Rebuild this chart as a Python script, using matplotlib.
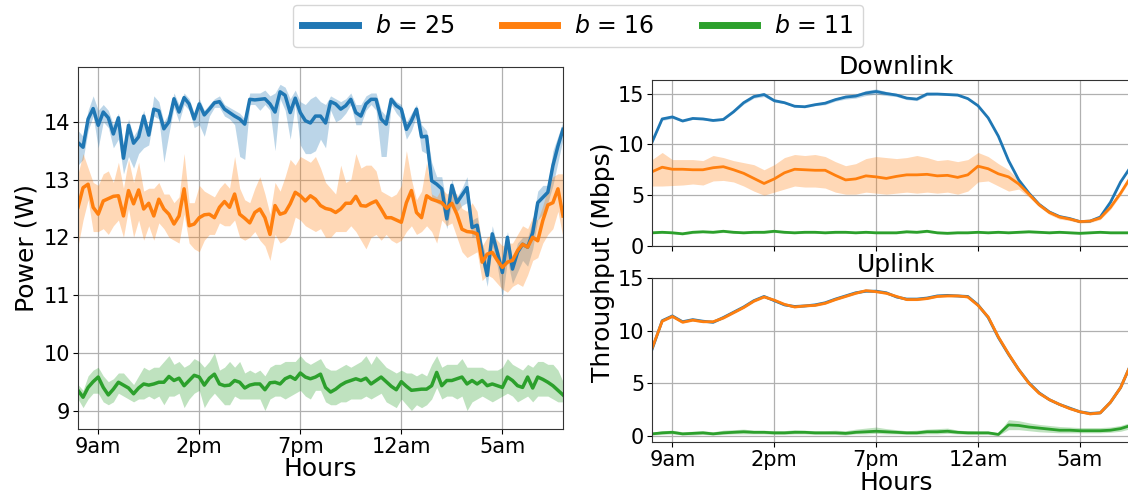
import numpy as np
import matplotlib
matplotlib.use("Agg")
import matplotlib.pyplot as plt

# ---------------- data ----------------
tick_pos = [9, 14, 19, 24, 29]
tick_labels = ['9am', '2pm', '7pm', '12am', '5am']
series_labels = [r'$b$ = 25', r'$b$ = 16', r'$b$ = 11']
colors = ['#1f77b4', '#ff7f0e', '#2ca02c']

# Left panel: power, 15-minute samples from 8am to 8am
hours_power = np.arange(97) * 0.25 + 8.0

p25_mean = [13.64, 13.56, 14.05, 14.23, 13.94, 14.17, 14.07, 13.79, 14.07, 13.37, 13.94, 13.63, 13.74, 14.10, 13.77, 14.22, 14.19, 13.88, 14.00, 14.40, 14.17, 14.42, 14.31, 14.05, 14.31,
            14.12, 14.22, 14.33, 14.35, 14.22, 14.16, 14.10, 14.05, 13.96, 14.39, 14.38, 14.39, 14.40, 14.31, 14.17, 14.52, 14.46, 14.16, 14.41, 14.16, 14.02, 13.98, 14.10, 14.10,
            13.98, 14.35, 14.31, 14.22, 14.28, 14.39, 14.16, 14.10, 14.31, 14.39, 14.39, 14.05, 13.96, 14.39, 14.28, 14.22, 13.87, 14.02, 14.22, 13.74, 13.75, 12.98, 12.92,
            12.84, 12.32, 12.90, 12.60, 12.73, 12.86, 12.17, 12.21, 11.74, 11.34, 12.06, 11.74, 11.39, 12.00, 11.45, 11.74, 11.88, 11.83, 12.08, 12.60, 12.69, 12.78, 13.24, 13.58, 13.87]
p25_low = [13.25, 13.35, 13.85, 14.1, 13.55, 14.0, 13.9, 13.55, 13.7, 13.1, 13.4, 13.2, 13.45, 13.55, 13.6, 14.1, 14.05, 13.3, 13.8, 14.25, 14.0, 14.3, 14.2, 13.9, 13.95,
           13.75, 14.1, 14.25, 14.25, 14.1, 14.05, 13.95, 13.4, 13.35, 14.3, 14.3, 14.2, 14.3, 14.2, 13.5, 14.4, 14.2, 13.7, 14.3, 13.6, 13.45, 13.45, 13.5, 13.7,
           13.55, 14.2, 14.0, 14.05, 14.15, 14.3, 13.95, 13.95, 14.2, 14.3, 14.2, 13.4, 13.4, 14.3, 14.15, 14.05, 13.7, 13.85, 14.1, 13.5, 13.45, 12.7, 12.6,
           12.55, 12.15, 12.6, 12.45, 12.55, 12.6, 12.0, 12.05, 11.55, 11.15, 11.85, 11.5, 10.95, 11.6, 11.2, 11.4, 11.6, 11.5, 11.8, 12.3, 12.4, 12.6, 12.9, 13.3, 13.7]
p25_high = [13.85, 13.75, 14.2, 14.45, 14.2, 14.3, 14.2, 13.95, 14.15, 13.6, 14.05, 13.75, 13.9, 14.2, 13.85, 14.45, 14.35, 14.0, 14.15, 14.5, 14.3, 14.5, 14.4, 14.15, 14.4,
            14.2, 14.3, 14.4, 14.45, 14.3, 14.25, 14.2, 14.15, 14.05, 14.5, 14.5, 14.5, 14.55, 14.45, 14.5, 14.65, 14.6, 14.4, 14.55, 14.35, 14.3, 14.4, 14.45, 14.35,
            14.3, 14.45, 14.4, 14.35, 14.4, 14.5, 14.3, 14.3, 14.45, 14.5, 14.5, 14.2, 14.1, 14.45, 14.35, 14.3, 14.0, 14.15, 14.3, 13.95, 13.85, 13.3, 13.05,
            13.05, 12.55, 13.0, 12.7, 12.85, 13.05, 12.3, 12.35, 11.9, 11.6, 12.2, 11.85, 11.5, 12.1, 11.6, 11.9, 12.0, 12.0, 12.3, 12.8, 12.9, 12.9, 13.5, 13.75, 14.0]

p16_mean = [12.52, 12.86, 12.92, 12.52, 12.40, 12.63, 12.67, 12.71, 12.72, 12.37, 12.81, 12.58, 12.82, 12.49, 12.59, 12.37, 12.66, 12.49, 12.40, 12.23, 12.37, 12.84, 12.20, 12.23, 12.34,
            12.39, 12.40, 12.34, 12.52, 12.62, 12.52, 12.75, 12.40, 12.33, 12.25, 12.43, 12.49, 12.34, 12.05, 12.55, 12.40, 12.43, 12.58, 12.78, 12.72, 12.63, 12.72, 12.66, 12.55,
            12.50, 12.48, 12.43, 12.49, 12.59, 12.59, 12.71, 12.55, 12.54, 12.59, 12.63, 12.49, 12.34, 12.34, 12.30, 12.26, 12.60, 12.81, 12.43, 12.34, 12.72, 12.66, 12.63,
            12.60, 12.50, 12.59, 12.40, 12.14, 12.10, 12.09, 12.06, 11.57, 11.71, 11.74, 11.60, 11.48, 11.57, 11.60, 11.77, 11.88, 11.83, 12.00, 11.94, 12.29, 12.56, 12.60, 12.84, 12.37]
p16_low = [11.85, 12.3, 12.65, 12.1, 12.1, 12.15, 12.05, 12.2, 12.3, 12.0, 12.5, 12.0, 12.3, 11.95, 12.2, 11.95, 12.25, 12.15, 12.0, 11.95, 11.9, 12.4, 11.9, 11.8, 11.75,
           11.95, 12.05, 12.05, 12.25, 12.2, 12.2, 12.3, 12.0, 11.95, 12.0, 12.1, 11.95, 11.85, 11.6, 12.05, 11.9, 11.95, 12.05, 12.35, 12.3, 12.2, 12.15, 12.1, 12.15,
           12.0, 12.0, 12.1, 12.1, 12.1, 12.2, 12.1, 11.95, 11.8, 12.0, 12.05, 11.95, 12.05, 11.95, 11.9, 11.95, 12.1, 12.2, 12.05, 12.1, 12.2, 12.1, 11.9,
           12.3, 12.2, 12.25, 12.0, 11.75, 11.65, 11.7, 11.75, 11.25, 11.35, 11.3, 11.2, 11.1, 11.05, 11.15, 11.2, 11.15, 11.35, 11.6, 11.65, 11.9, 12.05, 12.15, 12.45, 12.0]
p16_high = [13.1, 13.45, 13.2, 12.95, 12.9, 13.1, 13.15, 12.95, 13.3, 12.85, 13.35, 12.95, 13.3, 12.8, 12.85, 12.85, 12.95, 12.75, 12.75, 12.6, 12.7, 13.45, 12.6, 12.6, 12.9,
            12.8, 12.75, 12.7, 12.85, 12.95, 12.85, 13.4, 12.85, 12.65, 12.6, 12.85, 13.05, 12.75, 12.4, 12.95, 12.8, 13.05, 13.35, 13.25, 13.4, 13.35, 13.3, 13.4, 13.2,
            12.95, 12.85, 12.75, 13.25, 12.95, 13.0, 13.45, 13.2, 13.25, 13.25, 13.15, 12.8, 12.75, 12.7, 12.75, 12.9, 13.5, 13.0, 12.65, 12.8, 13.3, 12.75, 12.7,
            12.85, 12.75, 12.8, 12.75, 12.5, 12.45, 12.6, 12.45, 11.85, 12.0, 12.05, 11.95, 11.85, 11.9, 11.9, 12.05, 12.2, 12.15, 12.35, 12.3, 12.55, 12.85, 13.05, 13.1, 13.1]

p11_mean = [9.35, 9.23, 9.40, 9.50, 9.58, 9.40, 9.27, 9.37, 9.49, 9.44, 9.39, 9.29, 9.39, 9.46, 9.44, 9.46, 9.49, 9.49, 9.59, 9.52, 9.56, 9.43, 9.52, 9.61, 9.58,
            9.44, 9.56, 9.63, 9.46, 9.43, 9.44, 9.52, 9.49, 9.39, 9.44, 9.46, 9.46, 9.36, 9.48, 9.49, 9.46, 9.55, 9.59, 9.54, 9.65, 9.58, 9.55, 9.58, 9.63,
            9.40, 9.32, 9.37, 9.44, 9.49, 9.52, 9.55, 9.52, 9.56, 9.46, 9.52, 9.58, 9.50, 9.42, 9.36, 9.50, 9.42, 9.35, 9.36, 9.37, 9.37, 9.43, 9.66,
            9.43, 9.52, 9.52, 9.55, 9.58, 9.46, 9.52, 9.46, 9.52, 9.43, 9.46, 9.43, 9.40, 9.58, 9.52, 9.43, 9.40, 9.58, 9.39, 9.58, 9.54, 9.49, 9.43, 9.35, 9.27]
p11_low = [9.2, 9.05, 9.2, 9.3, 9.3, 9.15, 9.1, 9.15, 9.3, 9.25, 9.2, 9.15, 9.2, 9.2, 9.25, 9.2, 9.25, 9.1, 9.25, 9.25, 9.3, 9.05, 9.2, 9.3, 9.35,
           9.05, 9.2, 9.3, 9.2, 9.1, 9.1, 9.25, 9.2, 9.2, 9.2, 9.2, 9.2, 9.0, 9.2, 9.25, 9.25, 9.2, 9.25, 9.3, 9.35, 9.25, 9.2, 9.35, 9.35,
           9.15, 9.1, 9.1, 9.15, 9.15, 9.2, 9.2, 9.2, 9.25, 9.2, 9.25, 9.3, 9.15, 9.1, 9.05, 9.2, 9.1, 9.0, 9.1, 9.05, 9.1, 9.2, 9.4,
           9.2, 9.25, 9.25, 9.2, 9.25, 9.0, 9.15, 9.2, 9.25, 9.2, 9.15, 9.2, 9.25, 9.3, 9.25, 9.15, 9.2, 9.25, 9.15, 9.25, 9.25, 9.25, 9.2, 9.15, 9.15]
p11_high = [9.45, 9.35, 9.6, 9.7, 9.75, 9.6, 9.5, 9.55, 9.65, 9.65, 9.55, 9.45, 9.6, 9.75, 9.7, 9.75, 9.75, 9.85, 9.95, 9.8, 9.85, 9.75, 9.8, 9.9, 9.85,
            9.75, 9.85, 10.0, 9.7, 9.75, 9.85, 9.75, 9.85, 9.65, 9.7, 9.65, 9.7, 9.6, 9.75, 9.8, 9.8, 9.85, 9.85, 9.85, 9.95, 9.85, 9.8, 9.85, 9.9,
            9.75, 9.7, 9.7, 9.75, 9.8, 9.75, 9.8, 9.85, 9.95, 9.8, 9.95, 9.85, 9.75, 9.7, 9.65, 9.7, 9.65, 9.65, 9.6, 9.65, 9.6, 9.8, 9.95,
            9.75, 9.8, 9.8, 9.8, 9.9, 9.75, 9.75, 9.75, 9.75, 9.7, 9.7, 9.7, 9.75, 9.9, 9.8, 9.75, 9.7, 9.8, 9.75, 9.85, 9.85, 9.8, 9.8, 9.7, 9.5]

# Right panels: throughput, 30-minute samples
hours_tp = np.arange(48) * 0.5 + 8.0

dl25 = [10.2, 12.5, 12.7, 12.3, 12.55, 12.5, 12.35, 12.45, 13.2, 14.1, 14.7, 14.9, 14.3, 14.1, 13.75, 13.7,
        13.9, 14.05, 14.4, 14.65, 14.75, 15.05, 15.2, 15.0, 14.85, 14.55, 14.45, 14.95, 14.95, 14.9, 14.85, 14.5,
        13.8, 12.6, 10.8, 8.4, 6.5, 5.2, 4.1, 3.35, 2.9, 2.7, 2.4, 2.45, 2.85, 4.3, 6.3, 7.8]
dl25_hw = [0.1, 0.15, 0.15, 0.1, 0.1, 0.1, 0.1, 0.1, 0.1, 0.15, 0.15, 0.2, 0.15, 0.1, 0.1, 0.1,
           0.1, 0.15, 0.15, 0.2, 0.2, 0.25, 0.25, 0.2, 0.15, 0.15, 0.15, 0.15, 0.1, 0.1, 0.1, 0.1,
           0.1, 0.1, 0.1, 0.1, 0.1, 0.1, 0.1, 0.1, 0.1, 0.1, 0.1, 0.1, 0.1, 0.1, 0.1, 0.1]
dl16 = [7.3, 7.75, 7.55, 7.55, 7.5, 7.5, 7.7, 7.8, 7.5, 7.15, 6.65, 6.15, 6.6, 7.2, 7.55, 7.5,
        7.45, 7.45, 6.95, 6.5, 6.6, 6.9, 6.8, 6.65, 6.85, 7.0, 7.0, 7.05, 6.9, 6.95, 6.75, 7.0,
        7.85, 7.6, 7.1, 6.8, 6.1, 5.1, 4.05, 3.3, 2.85, 2.65, 2.4, 2.45, 2.75, 3.8, 5.2, 6.8]
dl16_low = [5.9, 5.9, 5.95, 6.0, 6.1, 6.0, 6.4, 6.45, 6.3, 5.9, 5.4, 5.0, 5.3, 5.6, 5.9, 5.8,
            5.8, 5.7, 5.3, 5.1, 5.1, 5.3, 5.2, 5.1, 5.2, 5.3, 5.2, 5.3, 5.2, 5.3, 5.1, 5.4,
            6.3, 6.4, 5.9, 5.4, 5.6, 4.8, 3.85, 3.1, 2.65, 2.5, 2.25, 2.3, 2.6, 3.6, 5.0, 6.6]
dl16_high = [8.5, 9.2, 8.5, 8.5, 8.5, 8.4, 8.9, 8.7, 8.4, 8.2, 8.0, 7.5, 8.0, 8.7, 9.0, 8.9,
             9.0, 8.8, 8.3, 7.9, 8.1, 8.6, 8.8, 8.7, 8.6, 8.7, 8.9, 8.7, 8.4, 8.5, 8.3, 8.5,
             9.2, 8.8, 8.1, 7.5, 6.5, 5.3, 4.25, 3.5, 3.05, 2.8, 2.55, 2.6, 2.9, 4.0, 5.4, 7.0]
dl11 = [1.3, 1.35, 1.3, 1.2, 1.35, 1.4, 1.35, 1.45, 1.35, 1.3, 1.35, 1.35, 1.45, 1.35, 1.3, 1.35,
        1.35, 1.3, 1.35, 1.35, 1.3, 1.35, 1.3, 1.3, 1.3, 1.4, 1.35, 1.45, 1.3, 1.25, 1.3, 1.3,
        1.35, 1.3, 1.35, 1.3, 1.35, 1.4, 1.35, 1.3, 1.35, 1.3, 1.25, 1.3, 1.35, 1.3, 1.3, 1.3]
dl11_hw = [0.1, 0.1, 0.1, 0.1, 0.12, 0.1, 0.1, 0.12, 0.1, 0.1, 0.1, 0.12, 0.12, 0.1, 0.1, 0.1,
           0.1, 0.1, 0.12, 0.1, 0.1, 0.1, 0.1, 0.1, 0.1, 0.12, 0.1, 0.12, 0.1, 0.1, 0.1, 0.1,
           0.1, 0.1, 0.1, 0.1, 0.1, 0.12, 0.1, 0.1, 0.1, 0.1, 0.1, 0.1, 0.1, 0.1, 0.1, 0.1]

ul25 = [8.2, 10.95, 11.4, 10.85, 11.05, 10.9, 10.8, 11.25, 11.75, 12.25, 12.85, 13.25, 12.85, 12.45, 12.3, 12.35,
        12.45, 12.65, 13.0, 13.3, 13.6, 13.75, 13.75, 13.6, 13.2, 13.0, 13.0, 13.1, 13.3, 13.35, 13.3, 13.25,
        12.45, 11.25, 9.35, 7.75, 6.3, 5.05, 4.1, 3.45, 3.0, 2.65, 2.3, 2.15, 2.2, 3.2, 4.6, 6.8]
ul16 = [8.3, 10.9, 11.35, 10.8, 11.0, 10.85, 10.85, 11.2, 11.7, 12.2, 12.8, 13.2, 12.9, 12.5, 12.25, 12.35,
        12.4, 12.6, 12.95, 13.25, 13.55, 13.8, 13.7, 13.55, 13.25, 12.95, 12.95, 13.05, 13.25, 13.3, 13.3, 13.2,
        12.4, 11.3, 9.4, 7.8, 6.3, 5.0, 4.05, 3.45, 3.0, 2.6, 2.3, 2.1, 2.2, 3.2, 4.6, 6.8]
ul_hw = [0.1, 0.1, 0.1, 0.1, 0.1, 0.1, 0.1, 0.1, 0.1, 0.1, 0.1, 0.1, 0.1, 0.1, 0.1, 0.1,
         0.1, 0.1, 0.1, 0.1, 0.1, 0.1, 0.1, 0.1, 0.1, 0.1, 0.1, 0.1, 0.1, 0.1, 0.1, 0.1,
         0.1, 0.1, 0.1, 0.1, 0.1, 0.1, 0.1, 0.1, 0.1, 0.1, 0.1, 0.1, 0.1, 0.1, 0.1, 0.1]
ul11 = [0.2, 0.3, 0.35, 0.2, 0.25, 0.3, 0.2, 0.3, 0.35, 0.4, 0.35, 0.35, 0.3, 0.3, 0.35, 0.35,
        0.3, 0.3, 0.3, 0.25, 0.35, 0.4, 0.45, 0.4, 0.35, 0.3, 0.3, 0.4, 0.4, 0.45, 0.35, 0.3,
        0.3, 0.3, 0.15, 1.05, 1.0, 0.85, 0.75, 0.65, 0.55, 0.55, 0.5, 0.5, 0.5, 0.55, 0.7, 1.0]
ul11_low = [0.1, 0.15, 0.2, 0.1, 0.1, 0.15, 0.1, 0.15, 0.2, 0.2, 0.2, 0.2, 0.15, 0.15, 0.2, 0.2,
            0.15, 0.15, 0.15, 0.1, 0.2, 0.2, 0.25, 0.2, 0.2, 0.15, 0.15, 0.2, 0.2, 0.25, 0.2, 0.15,
            0.15, 0.15, 0.05, 0.6, 0.6, 0.5, 0.4, 0.35, 0.3, 0.3, 0.3, 0.3, 0.3, 0.35, 0.45, 0.7]
ul11_high = [0.35, 0.5, 0.55, 0.4, 0.45, 0.5, 0.4, 0.55, 0.6, 0.65, 0.55, 0.55, 0.5, 0.5, 0.6, 0.55,
             0.5, 0.5, 0.55, 0.5, 0.65, 0.75, 0.85, 0.7, 0.6, 0.5, 0.55, 0.65, 0.7, 0.75, 0.55, 0.5,
             0.45, 0.45, 0.3, 1.55, 1.45, 1.25, 1.1, 1.0, 0.9, 0.85, 0.8, 0.8, 0.8, 0.85, 1.0, 1.3]

# ---------------- figure ----------------
W, H = 1128, 496
fig = plt.figure(figsize=(W / 100, H / 100), dpi=100)

def px_axes(x0, y0, x1, y1):
    return fig.add_axes([x0 / W, 1 - y1 / H, (x1 - x0) / W, (y1 - y0) / H])

ax_p = px_axes(78, 67, 563, 429)
ax_dl = px_axes(652, 80, 1141, 246)
ax_ul = px_axes(652, 278, 1141, 442)

TICK_FS = 15
LAB_FS = 18
alpha = 0.3

# Left: power
pw = [(p25_mean, p25_low, p25_high), (p16_mean, p16_low, p16_high), (p11_mean, p11_low, p11_high)]
lines = []
for (m, lo, hi), c, lab in zip(pw, colors, series_labels):
    ax_p.fill_between(hours_power, lo, hi, color=c, alpha=alpha, lw=0)
    ln, = ax_p.plot(hours_power, m, color=c, lw=2.5, label=lab)
    lines.append(ln)
ax_p.set_xlim(8, 32)
ax_p.set_ylim(8.68, 14.95)
ax_p.set_yticks([9, 10, 11, 12, 13, 14])
ax_p.set_ylabel('Power (W)', fontsize=LAB_FS)
ax_p.set_xlabel('Hours', fontsize=LAB_FS, labelpad=0)

# Right top: downlink
ax_dl.fill_between(hours_tp, np.array(dl25) - np.array(dl25_hw), np.array(dl25) + np.array(dl25_hw),
                   color=colors[0], alpha=alpha, lw=0)
ax_dl.plot(hours_tp, dl25, color=colors[0], lw=2)
ax_dl.fill_between(hours_tp, dl16_low, dl16_high, color=colors[1], alpha=alpha, lw=0)
ax_dl.plot(hours_tp, dl16, color=colors[1], lw=2)
ax_dl.fill_between(hours_tp, np.array(dl11) - np.array(dl11_hw), np.array(dl11) + np.array(dl11_hw),
                   color=colors[2], alpha=alpha, lw=0)
ax_dl.plot(hours_tp, dl11, color=colors[2], lw=2)
ax_dl.set_ylim(0, 16.33)
ax_dl.set_title('Downlink', fontsize=LAB_FS, pad=4)

# Right bottom: uplink
ax_ul.fill_between(hours_tp, np.array(ul25) - np.array(ul_hw), np.array(ul25) + np.array(ul_hw),
                   color=colors[0], alpha=alpha, lw=0)
ax_ul.plot(hours_tp, ul25, color=colors[0], lw=2)
ax_ul.fill_between(hours_tp, np.array(ul16) - np.array(ul_hw), np.array(ul16) + np.array(ul_hw),
                   color=colors[1], alpha=alpha, lw=0)
ax_ul.plot(hours_tp, ul16, color=colors[1], lw=2)
ax_ul.fill_between(hours_tp, ul11_low, ul11_high, color=colors[2], alpha=alpha, lw=0)
ax_ul.plot(hours_tp, ul11, color=colors[2], lw=2)
ax_ul.set_ylim(-0.57, 15.0)
ax_ul.set_title('Uplink', fontsize=LAB_FS, pad=4)
ax_ul.set_xlabel('Hours', fontsize=LAB_FS, labelpad=1)

for ax in (ax_dl, ax_ul):
    ax.set_xlim(8, 32)
    ax.set_yticks([0, 5, 10, 15])

for ax in (ax_p, ax_dl, ax_ul):
    ax.set_xticks(tick_pos)
    ax.set_xticklabels(tick_labels)
    ax.tick_params(labelsize=TICK_FS, pad=2)
    ax.grid(True, color='#b0b0b0', lw=0.9)
    ax.set_axisbelow(True)
    for s in ax.spines.values():
        s.set_color('#333333')

ax_dl.tick_params(labelbottom=False)

fig.text(603 / W, 1 - 262 / H, 'Throughput (Mbps)', rotation=90, fontsize=LAB_FS,
         ha='center', va='center')

leg = fig.legend(handles=lines, labels=series_labels, loc='upper center',
                 bbox_to_anchor=(578 / W, 1 - 4.5 / H), ncol=3, fontsize=17,
                 handlelength=2.35, columnspacing=2.0, handletextpad=0.72,
                 frameon=True, fancybox=True, borderpad=0.4, borderaxespad=0)
for l in leg.get_lines():
    l.set_linewidth(5)

fig.savefig('out.png', dpi=100)
